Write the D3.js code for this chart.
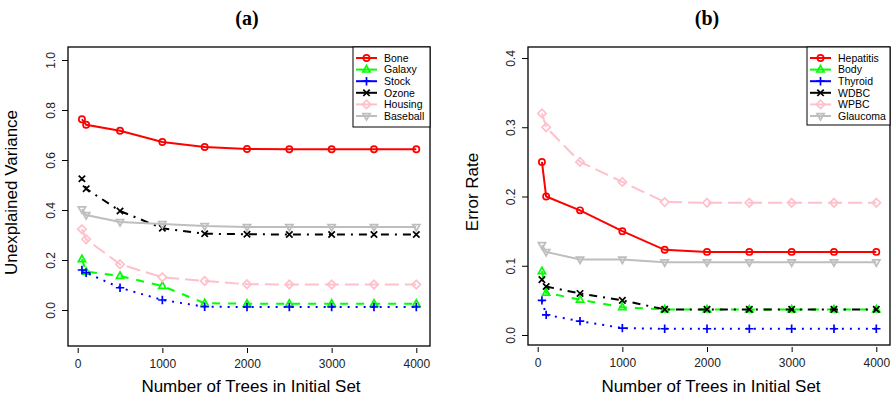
<!DOCTYPE html>
<html>
<head>
<meta charset="utf-8">
<script src="https://cdn.jsdelivr.net/npm/d3@7"></script>
<style>
  body { margin: 0; background: #fff; }
  svg { font-family: "Liberation Sans", Arial, sans-serif; }
</style>
</head>
<body>
<div id="chart"></div>
<script>
// number of trees (x values, shared by all series)
const trees = [50, 100, 500, 1000, 1500, 2000, 2500, 3000, 3500, 4000];
const xTicks = [0, 1000, 2000, 3000, 4000];

// panel (a): unexplained variance
const seriesA = ['Bone', 'Galaxy', 'Stock', 'Ozone', 'Housing', 'Baseball'];
const bone     = [0.763, 0.741, 0.717, 0.672, 0.652, 0.644, 0.643, 0.643, 0.643, 0.643];
const galaxy   = [0.203, 0.153, 0.136, 0.096, 0.027, 0.025, 0.025, 0.025, 0.025, 0.025];
const stock    = [0.160, 0.149, 0.089, 0.040, 0.013, 0.012, 0.012, 0.012, 0.012, 0.012];
const ozone    = [0.525, 0.485, 0.396, 0.327, 0.305, 0.303, 0.302, 0.302, 0.302, 0.302];
const housing  = [0.323, 0.283, 0.183, 0.131, 0.116, 0.103, 0.102, 0.102, 0.102, 0.102];
const baseball = [0.403, 0.380, 0.352, 0.344, 0.336, 0.332, 0.332, 0.332, 0.332, 0.332];
const yTicksA = [0.0, 0.2, 0.4, 0.6, 0.8, 1.0];

// panel (b): error rate
const seriesB = ['Hepatitis', 'Body', 'Thyroid', 'WDBC', 'WPBC', 'Glaucoma'];
const hepatitis = [0.250, 0.200, 0.180, 0.150, 0.123, 0.120, 0.120, 0.120, 0.120, 0.120];
const body      = [0.092, 0.061, 0.051, 0.040, 0.037, 0.037, 0.037, 0.037, 0.037, 0.037];
const thyroid   = [0.050, 0.029, 0.020, 0.010, 0.009, 0.009, 0.009, 0.009, 0.009, 0.009];
const wdbc      = [0.080, 0.070, 0.060, 0.050, 0.037, 0.037, 0.037, 0.037, 0.037, 0.037];
const wpbc      = [0.320, 0.300, 0.250, 0.221, 0.192, 0.191, 0.191, 0.191, 0.191, 0.191];
const glaucoma  = [0.130, 0.120, 0.109, 0.109, 0.105, 0.105, 0.105, 0.105, 0.105, 0.105];
const yTicksB = [0.0, 0.1, 0.2, 0.3, 0.4];

// styles (same order for both panels, like R col=1..6 / lty / pch)
const colors = ['#ff0000', '#00ff00', '#0000ff', '#000000', '#ffc0cb', '#bebebe'];
const dashes = [null, '8,8', '2,6', '2,6,8,6', '14,6', null];
const shapes = ['circle', 'triangle', 'plus', 'cross', 'diamond', 'down'];

const width = 891, height = 404;
const svg = d3.select('#chart').append('svg')
    .attr('width', width).attr('height', height);

// marker path centered at 0,0
function markerPath(type) {
    const p = d3.path();
    if (type === 'circle') {
        p.arc(0, 0, 3.1, 0, 2 * Math.PI);
    } else if (type === 'triangle') {
        p.moveTo(0, -4); p.lineTo(3.6, 2.4); p.lineTo(-3.6, 2.4); p.closePath();
    } else if (type === 'down') {
        p.moveTo(0, 4); p.lineTo(3.6, -2.4); p.lineTo(-3.6, -2.4); p.closePath();
    } else if (type === 'plus') {
        p.moveTo(-4.2, 0); p.lineTo(4.2, 0); p.moveTo(0, -4.2); p.lineTo(0, 4.2);
    } else if (type === 'cross') {
        p.moveTo(-3.2, -3.2); p.lineTo(3.2, 3.2); p.moveTo(-3.2, 3.2); p.lineTo(3.2, -3.2);
    } else if (type === 'diamond') {
        p.moveTo(0, -4.2); p.lineTo(4.2, 0); p.lineTo(0, 4.2); p.lineTo(-4.2, 0); p.closePath();
    }
    return p.toString();
}

function drawPanel(opt) {
    const g = svg.append('g');
    const x = d3.scaleLinear().domain([0, 4000]).range([opt.left + 9.7, opt.left + 348.3]);
    const y = d3.scaleLinear().domain(opt.yDomain).range(opt.yRange);

    // title
    g.append('text')
        .attr('x', (opt.left + opt.right) / 2 - 2).attr('y', 25)
        .attr('text-anchor', 'middle')
        .style('font-family', '"Liberation Serif", "Times New Roman", serif')
        .style('font-weight', 'bold').style('font-size', '20px')
        .text(opt.title);

    // x axis
    const xAxis = g.append('g')
        .attr('transform', `translate(0,${opt.bottom + 2})`)
        .call(d3.axisBottom(x).tickValues(xTicks).tickFormat(d3.format('d')).tickSize(5).tickPadding(6));
    xAxis.select('.domain').remove();
    xAxis.selectAll('line').attr('stroke', '#000');
    xAxis.selectAll('text').style('font-size', '12px').attr('fill', '#222')
        .style('font-family', '"Liberation Sans", Arial, sans-serif');

    // y axis, rotated labels
    const yAxis = g.append('g')
        .attr('transform', `translate(${opt.left},0)`)
        .call(d3.axisLeft(y).tickValues(opt.yTicks).tickFormat(d3.format('.1f')).tickSize(6));
    yAxis.select('.domain').remove();
    yAxis.selectAll('line').attr('stroke', '#000');
    yAxis.selectAll('text')
        .attr('x', 0).attr('y', -17).attr('dy', '0.35em')
        .attr('transform', 'rotate(-90)')
        .attr('text-anchor', 'middle')
        .attr('fill', '#222')
        .style('font-size', '12px')
        .style('font-family', '"Liberation Sans", Arial, sans-serif');

    // box
    g.append('rect')
        .attr('x', opt.left).attr('y', opt.top)
        .attr('width', opt.right - opt.left).attr('height', opt.bottom - opt.top)
        .attr('fill', 'none').attr('stroke', '#000').attr('stroke-width', 1.3);

    // axis titles
    g.append('text')
        .attr('x', (opt.left + opt.right) / 2 + 2).attr('y', 392)
        .attr('text-anchor', 'middle').style('font-size', '17px')
        .text('Number of Trees in Initial Set');
    g.append('text')
        .attr('transform', `translate(${opt.left - opt.ytitleOff},${(opt.top + opt.bottom) / 2 - 4}) rotate(-90)`)
        .attr('text-anchor', 'middle').style('font-size', '17px')
        .text(opt.ytitle);

    // lines and markers
    const line = d3.line().x((d, i) => x(trees[i])).y(d => y(d));
    opt.data.forEach((vals, k) => {
        g.append('path')
            .attr('d', line(vals))
            .attr('fill', 'none')
            .attr('stroke', colors[k])
            .attr('stroke-width', 2)
            .attr('stroke-dasharray', dashes[k]);
        g.selectAll(null).data(vals).enter().append('path')
            .attr('d', markerPath(shapes[k]))
            .attr('transform', (d, i) => `translate(${x(trees[i])},${y(d)})`)
            .attr('fill', 'none')
            .attr('stroke', colors[k])
            .attr('stroke-width', 1.7);
    });

    // legend
    const lg = g.append('g');
    lg.append('rect')
        .attr('x', opt.legX).attr('y', opt.top)
        .attr('width', opt.right - opt.legX).attr('height', opt.legH)
        .attr('fill', '#fff').attr('stroke', '#000').attr('stroke-width', 1);
    opt.names.forEach((name, k) => {
        const yy = opt.top + 11 + k * 11.6;
        lg.append('line')
            .attr('x1', opt.legX + 3).attr('x2', opt.legX + 24)
            .attr('y1', yy).attr('y2', yy)
            .attr('stroke', colors[k]).attr('stroke-width', 2);
        lg.append('path')
            .attr('d', markerPath(shapes[k]))
            .attr('transform', `translate(${opt.legX + 13.5},${yy})`)
            .attr('fill', 'none').attr('stroke', colors[k]).attr('stroke-width', 1.7);
        lg.append('text')
            .attr('x', opt.legX + 31).attr('y', yy + 3.8)
            .style('font-size', '10.5px')
            .text(name);
    });
}

drawPanel({
    title: '(a)', left: 68, right: 430, top: 47, bottom: 346,
    yDomain: [0, 1], yRange: [310, 60], yTicks: yTicksA,
    ytitle: 'Unexplained Variance', ytitleOff: 51,
    data: [bone, galaxy, stock, ozone, housing, baseball], names: seriesA,
    legX: 353, legH: 80
});

drawPanel({
    title: '(b)', left: 528, right: 890, top: 47, bottom: 345,
    yDomain: [0, 0.4], yRange: [335, 58], yTicks: yTicksB,
    ytitle: 'Error Rate', ytitleOff: 50,
    data: [hepatitis, body, thyroid, wdbc, wpbc, glaucoma], names: seriesB,
    legX: 807, legH: 78
});
</script>
</body>
</html>
